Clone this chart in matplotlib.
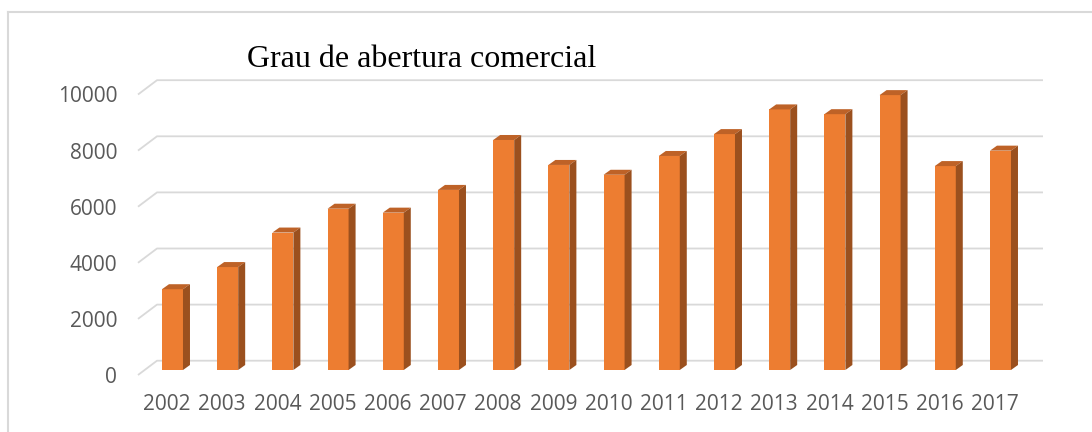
import matplotlib
matplotlib.use("Agg")
import matplotlib.pyplot as plt
from matplotlib.lines import Line2D

# data
years = [str(y) for y in range(2002, 2018)]
values = [2880, 3670, 4900, 5750, 5610, 6420, 8200, 7310,
          6960, 7630, 8410, 9290, 9120, 9800, 7270, 7820]
yticks = [0, 2000, 4000, 6000, 8000, 10000]
title = "Grau de abertura comercial"

FRONT = "#ED7D31"
TOP = "#BE6227"
SIDE = "#9B501E"
GRID = "#d9d9d9"
TXT = "#595959"

W, H, DPI = 1092, 432, 100
fig = plt.figure(figsize=(W / DPI, H / DPI), dpi=DPI)

# fake 3D geometry (category units / value units)
px_per_cat = 55.2
px_per_val = 0.02805
x_left, x_right = 138, 1060      # axes edges in px
y_bot, y_top = 375, 60
xmin = -0.525
xmax = xmin + (x_right - x_left) / px_per_cat
ymax = (y_bot - y_top) / px_per_val

ax = fig.add_axes([x_left / W, (H - y_bot) / H, (x_right - x_left) / W, (y_bot - y_top) / H])
ax.set_xlim(xmin, xmax)
ax.set_ylim(0, ymax)
for s in ax.spines.values():
    s.set_visible(False)

wall_dx, wall_dy = 19 / px_per_cat, 14.3 / px_per_val
bar_z0 = 5 / px_per_val             # front face sits a bit behind the front plane
bar_dx, bar_dy = 7 / px_per_cat, 5 / px_per_val
bar_w = 21 / px_per_cat
bar_shift = 5.5 / px_per_cat
wall_end = (1043 - 167) / px_per_cat

# back wall gridlines with the short floor diagonal on the left
for v in yticks:
    ax.plot([xmin, xmin + wall_dx, wall_end], [v, v + wall_dy, v + wall_dy],
            color=GRID, lw=1.3, zorder=1, clip_on=False, solid_capstyle="butt")

xs = list(range(len(values)))
ax.bar([x + bar_shift for x in xs], values, width=bar_w, bottom=bar_z0,
       color=FRONT, edgecolor="none", zorder=3)
for x, v in zip(xs, values):
    xl = x + bar_shift - bar_w / 2
    xr = x + bar_shift + bar_w / 2
    top = bar_z0 + v
    ax.fill([xl, xr, xr + bar_dx, xl + bar_dx], [top, top, top + bar_dy, top + bar_dy],
            color=TOP, lw=0, zorder=3)
    ax.fill([xr, xr + bar_dx, xr + bar_dx, xr], [bar_z0, bar_z0 + bar_dy, top + bar_dy, top],
            color=SIDE, lw=0, zorder=3)

ax.set_xticks(xs)
ax.set_xticklabels(years)
ax.set_yticks(yticks)
ax.set_yticklabels([str(t) for t in yticks])
ax.tick_params(length=0, labelsize=15, labelcolor=TXT)
ax.tick_params(axis="y", pad=15)
ax.tick_params(axis="x", pad=14)
for lab in ax.get_xticklabels() + ax.get_yticklabels():
    lab.set_fontfamily("Open Sans")

fig.text(422 / W, (H - 67) / H, title, ha="center", va="baseline",
         fontsize=23, family="Liberation Serif", color="black")

# chart border (runs off the right and bottom edges)
fig.add_artist(Line2D([8 / W, 8 / W], [0, (H - 12) / H], color=GRID, lw=1.5))
fig.add_artist(Line2D([8 / W, 1], [(H - 12) / H, (H - 12) / H], color=GRID, lw=1.5))

fig.savefig("out.png", dpi=DPI)
